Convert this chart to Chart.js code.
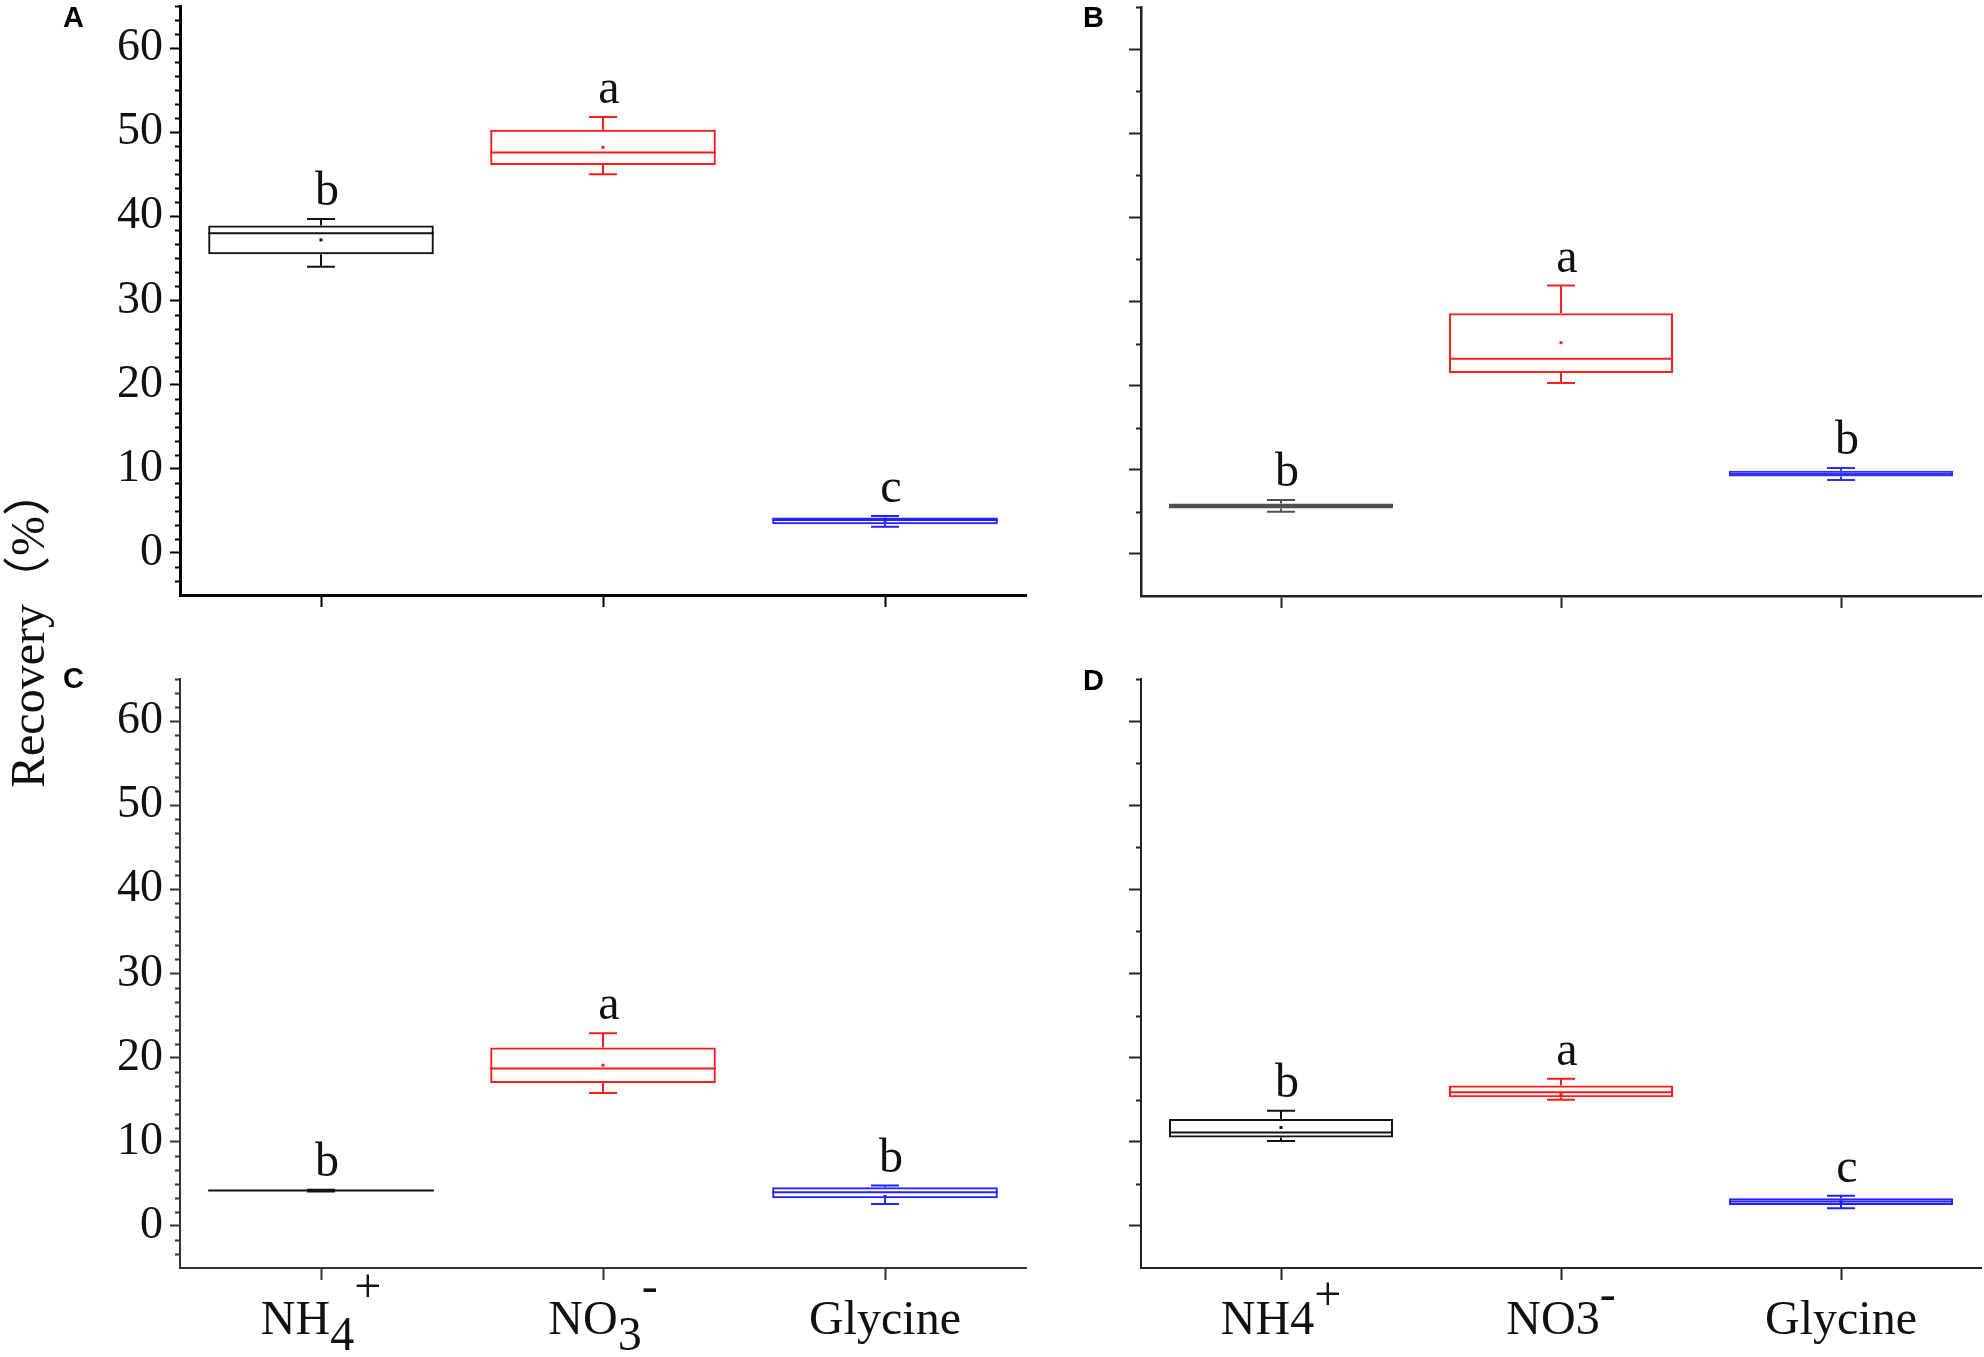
<!DOCTYPE html>
<html>
<head>
<meta charset="utf-8">
<script src="https://cdn.jsdelivr.net/npm/chart.js@4.4.1/dist/chart.umd.min.js"></script>
<style>
    html, body { margin: 0; padding: 0; background: #fff; }
    #wrap { position: relative; width: 1984px; height: 1357px; overflow: hidden; background: #fff; }
    canvas { position: absolute; }
    .tag { position: absolute; font: bold 29px "Liberation Sans", Arial, sans-serif; color: #000; line-height: 1; }
    #ytitle {
        position: absolute; left: 28px; top: 628px;
        transform: translate(-50%, -50%) rotate(-90deg);
        font: 48px "Liberation Serif", "Noto Sans CJK SC", serif;
        line-height: 1; white-space: nowrap; color: #111;
    }
</style>
</head>
<body>
<div id="wrap">
    <canvas id="chartA" width="1040" height="640" style="left:0;top:0"></canvas>
    <canvas id="chartB" width="944" height="640" style="left:1040px;top:0"></canvas>
    <canvas id="chartC" width="1040" height="717" style="left:0;top:640px"></canvas>
    <canvas id="chartD" width="944" height="717" style="left:1040px;top:640px"></canvas>
    <div class="tag" style="left:63px;top:3px">A</div>
    <div class="tag" style="left:1083px;top:3px">B</div>
    <div class="tag" style="left:63px;top:664px">C</div>
    <div class="tag" style="left:1083px;top:666px">D</div>
    <div id="ytitle">Recovery（%）</div>
</div>
<script>
// 数据
const categories = ['NH4+', 'NO3-', 'Glycine'];
const yTicks = [0, 10, 20, 30, 40, 50, 60];
const xLabelsC = ['NH_4^+', 'NO_3^-', 'Glycine'];
const xLabelsD = ['NH4^+', 'NO3^-', 'Glycine'];

// A
const minA  = [34.0, 45.0, 3.1];
const q1A   = [35.5, 46.1, 3.4];
const medA  = [38.0, 47.6, 3.9];
const q3A   = [38.9, 50.3, 4.2];
const maxA  = [39.7, 51.8, 4.4];
const meanA = [37.2, 48.2, 3.8];
const lettersA = ['b', 'a', 'c'];

// B
const minB  = [5.0, 20.3, 8.8];
const q1B   = [5.4, 21.5, 9.2];
const medB  = [5.7, 23.2, 9.5];
const q3B   = [6.0, 28.6, 9.9];
const maxB  = [6.4, 31.9, 10.2];
const meanB = [5.7, 25.1, 9.5];
const lettersB = ['b', 'a', 'b'];

// C
const minC  = [4.1, 15.8, 2.6];
const q1C   = [4.15, 17.0, 3.3];
const medC  = [4.2, 18.7, 4.0];
const q3C   = [4.25, 21.2, 4.6];
const maxC  = [4.3, 22.9, 4.8];
const meanC = [4.2, 19.1, 3.5];
const lettersC = ['b', 'a', 'b'];

// D
const minD  = [10.1, 15.0, 2.1];
const q1D   = [10.5, 15.3, 2.5];
const medD  = [11.1, 15.9, 2.9];
const q3D   = [12.7, 16.7, 3.3];
const maxD  = [13.7, 17.5, 3.6];
const meanD = [11.7, 15.6, 2.9];
const lettersD = ['b', 'a', 'c'];

const SERIF = '"Liberation Serif", "Times New Roman", serif';

// 须线、中位线、均值点、字母、次刻度、x 标签
function makeBoxPlugin(p) {
    return {
        id: 'boxParts',
        afterDatasetsDraw(chart) {
            const ctx = chart.ctx;
            const y = chart.scales.y;
            const bars = chart.getDatasetMeta(0).data;
            ctx.save();
            bars.forEach((bar, i) => {
                const cx = bar.x, half = bar.width / 2;
                ctx.strokeStyle = p.colors[i];
                ctx.lineWidth = 2;
                ctx.beginPath();
                ctx.moveTo(cx, y.getPixelForValue(p.q3[i]));
                ctx.lineTo(cx, y.getPixelForValue(p.max[i]));
                ctx.moveTo(cx, y.getPixelForValue(p.q1[i]));
                ctx.lineTo(cx, y.getPixelForValue(p.min[i]));
                [p.min[i], p.max[i]].forEach(v => {
                    const py = y.getPixelForValue(v);
                    ctx.moveTo(cx - 14, py);
                    ctx.lineTo(cx + 14, py);
                });
                const pm = y.getPixelForValue(p.med[i]);
                ctx.moveTo(cx - half, pm);
                ctx.lineTo(cx + half, pm);
                ctx.stroke();

                ctx.fillStyle = p.colors[i];
                const pa = y.getPixelForValue(p.mean[i]);
                ctx.fillRect(cx - 1.5, pa - 1.5, 3, 3);

                ctx.fillStyle = '#111';
                ctx.font = '48px ' + SERIF;
                ctx.textAlign = 'center';
                ctx.textBaseline = 'alphabetic';
                ctx.fillText(p.letters[i], cx + 6, y.getPixelForValue(p.max[i]) - 14);
            });
            ctx.restore();
        },
        afterDraw(chart) {
            const ctx = chart.ctx;
            const ys = chart.scales.y, xs = chart.scales.x;
            const left = chart.chartArea.left;
            ctx.save();
            // 次刻度
            ctx.strokeStyle = p.axisColor;
            ctx.lineWidth = 2;
            ctx.beginPath();
            const n = Math.round(70 / p.minorStep);
            for (let k = 1; k <= n; k++) {
                const v = -5 + k * p.minorStep;
                if (Math.abs(v / 10 - Math.round(v / 10)) < 1e-6) continue;
                const py = Math.round(ys.getPixelForValue(v)) + 0.5;
                ctx.moveTo(left - p.minorLen, py);
                ctx.lineTo(left, py);
            }
            ctx.stroke();

            // x 轴标签（下标/上标）
            if (p.xLabels) {
                ctx.font = '48px ' + SERIF;
                ctx.fillStyle = '#111';
                ctx.textAlign = 'left';
                ctx.textBaseline = 'alphabetic';
                const base = chart.chartArea.bottom + 66;
                p.xLabels.forEach((lab, i) => {
                    const segs = [];
                    for (let j = 0; j < lab.length; j++) {
                        const c = lab[j];
                        if (c === '_') { segs.push({ t: lab[++j], dy: 16 }); }
                        else if (c === '^') { segs.push({ t: lab[++j], dy: -p.supShift }); }
                        else { segs.push({ t: c, dy: 0 }); }
                    }
                    const total = segs.reduce((s, g) => s + ctx.measureText(g.t).width, 0);
                    let x = xs.getPixelForValue(i) - total / 2;
                    segs.forEach(g => {
                        ctx.fillText(g.t, x, base + g.dy);
                        x += ctx.measureText(g.t).width;
                    });
                });
            }
            ctx.restore();
        }
    };
}

function makePanel(id, p) {
    new Chart(document.getElementById(id), {
        type: 'bar',
        data: {
            labels: categories,
            datasets: [{
                data: p.q1.map((v, i) => [v, p.q3[i]]),
                backgroundColor: 'rgba(255, 255, 255, 0)',
                borderColor: p.colors,
                borderWidth: 2,
                borderSkipped: false,
                barPercentage: 0.8,
                categoryPercentage: 1.0
            }]
        },
        options: {
            responsive: false,
            animation: false,
            devicePixelRatio: 1,
            layout: { padding: p.padding },
            plugins: {
                legend: { display: false },
                tooltip: { enabled: false }
            },
            scales: {
                x: {
                    offset: true,
                    grid: {
                        display: true,
                        drawOnChartArea: false,
                        drawTicks: true,
                        tickLength: 12,
                        tickColor: p.axisColor,
                        tickWidth: 2,
                        offset: false
                    },
                    border: { display: true, color: p.axisColor, width: p.axisWidth },
                    ticks: { display: false },
                    afterFit: s => {
                        s.height = p.xAxisHeight;
                        s.paddingLeft = 0;
                        s.paddingRight = 0;
                    }
                },
                y: {
                    min: -5,
                    max: 65,
                    afterBuildTicks: s => { s.ticks = yTicks.map(v => ({ value: v })); },
                    grid: {
                        display: true,
                        drawOnChartArea: false,
                        drawTicks: true,
                        tickLength: p.majorLen,
                        tickColor: p.axisColor,
                        tickWidth: 2
                    },
                    border: { display: true, color: p.axisColor, width: p.axisWidth },
                    ticks: {
                        display: p.showY,
                        padding: 7,
                        color: '#111',
                        font: { family: SERIF, size: 46 }
                    },
                    afterFit: s => {
                        s.width = p.yAxisWidth;
                        s.paddingTop = 0;
                        s.paddingBottom = 0;
                    }
                }
            }
        },
        plugins: [makeBoxPlugin(p)]
    });
}

makePanel('chartA', {
    min: minA, q1: q1A, med: medA, q3: q3A, max: maxA, mean: meanA, letters: lettersA,
    colors: ['#111', '#ff1a1a', '#2222ff'],
    axisColor: '#000', axisWidth: 3, majorLen: 10, minorLen: 5, minorStep: 10 / 6,
    showY: true, yAxisWidth: 180, xAxisHeight: 45,
    padding: { left: 0, top: 6, right: 14, bottom: 0 }
});
makePanel('chartB', {
    min: minB, q1: q1B, med: medB, q3: q3B, max: maxB, mean: meanB, letters: lettersB,
    colors: ['#505050', '#ff2020', '#3030ff'],
    axisColor: '#222', axisWidth: 2.5, majorLen: 12, minorLen: 5, minorStep: 5,
    showY: false, yAxisWidth: 101, xAxisHeight: 44,
    padding: { left: 0, top: 7, right: 3, bottom: 0 }
});
makePanel('chartC', {
    min: minC, q1: q1C, med: medC, q3: q3C, max: maxC, mean: meanC, letters: lettersC,
    colors: ['#111', '#ff1a1a', '#2222ff'],
    axisColor: '#333', axisWidth: 2, majorLen: 10, minorLen: 5, minorStep: 10 / 6,
    showY: true, yAxisWidth: 180, xAxisHeight: 89,
    padding: { left: 0, top: 39, right: 14, bottom: 0 },
    xLabels: xLabelsC, supShift: 32
});
makePanel('chartD', {
    min: minD, q1: q1D, med: medD, q3: q3D, max: maxD, mean: meanD, letters: lettersD,
    colors: ['#111', '#ff1a1a', '#2222ff'],
    axisColor: '#222', axisWidth: 2, majorLen: 12, minorLen: 5, minorStep: 5,
    showY: false, yAxisWidth: 101, xAxisHeight: 89,
    padding: { left: 0, top: 39, right: 3, bottom: 0 },
    xLabels: xLabelsD, supShift: 24
});
</script>
</body>
</html>
